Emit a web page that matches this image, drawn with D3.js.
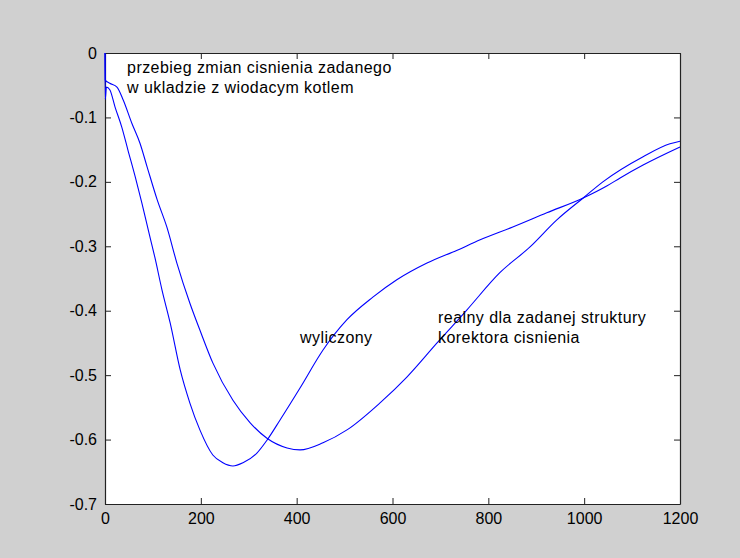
<!DOCTYPE html>
<html>
<head>
<meta charset="utf-8">
<script src="https://cdn.jsdelivr.net/npm/d3@7/dist/d3.min.js"></script>
<style>
  html, body { margin: 0; padding: 0; background: #d0d0d0; }
  svg { display: block; }
  text { font-family: "Liberation Sans", Arial, sans-serif; fill: #000; }
</style>
</head>
<body>
<svg id="chart" width="740" height="558"></svg>
<script>
// ---- data ----
const xTicks = [0, 200, 400, 600, 800, 1000, 1200];
const yTicks = [0, -0.1, -0.2, -0.3, -0.4, -0.5, -0.6, -0.7];
const yTickLabels = ["0", "-0.1", "-0.2", "-0.3", "-0.4", "-0.5", "-0.6", "-0.7"];

// "wyliczony" (computed) curve
const calcX = [0, 0.5, 3, 10, 21, 35, 48, 63, 77, 92, 104, 119, 136, 157, 177, 198, 225, 246, 267, 288, 317, 338, 365, 407, 455, 505, 559, 609, 672, 735, 783, 851, 922, 998, 1048, 1075, 1123, 1200];
const calcY = [0, -0.072, -0.053, -0.057, -0.084, -0.115, -0.151, -0.192, -0.233, -0.280, -0.317, -0.368, -0.419, -0.492, -0.543, -0.585, -0.624, -0.636, -0.641, -0.636, -0.621, -0.601, -0.570, -0.520, -0.461, -0.414, -0.379, -0.352, -0.326, -0.306, -0.290, -0.270, -0.248, -0.225, -0.206, -0.194, -0.174, -0.146];

// "realny" (real) curve
const realX = [0, 0.5, 10, 25, 38, 56, 73, 88, 109, 129, 150, 177, 198, 225, 267, 303, 338, 380, 407, 455, 505, 574, 630, 693, 755, 824, 887, 943, 998, 1039, 1123, 1179, 1200];
const realY = [0, -0.042, -0.047, -0.053, -0.073, -0.109, -0.140, -0.177, -0.228, -0.270, -0.326, -0.388, -0.430, -0.481, -0.539, -0.574, -0.598, -0.613, -0.616, -0.605, -0.585, -0.543, -0.503, -0.450, -0.399, -0.341, -0.301, -0.259, -0.225, -0.200, -0.161, -0.141, -0.137];

const labels = [
  { x: 46, y: -0.031, lines: ["przebieg zmian cisnienia zadanego", "w ukladzie z wiodacym kotlem"] },
  { x: 407, y: -0.450, lines: ["wyliczony"] },
  { x: 695, y: -0.419, lines: ["realny dla zadanej struktury", "korektora cisnienia"] }
];

// ---- layout ----
const svg = d3.select("#chart");
const L = 105, R = 680, T = 53, B = 504;
const x = d3.scaleLinear().domain([0, 1200]).range([L, R]);
const y = d3.scaleLinear().domain([-0.7, 0]).range([B, T]);

svg.append("rect").attr("x", 0).attr("y", 0).attr("width", 740).attr("height", 558).attr("fill", "#d0d0d0");
svg.append("rect").attr("x", L).attr("y", T).attr("width", R - L).attr("height", B - T).attr("fill", "#fff");

const tickFs = "16px";
const annFs = "16px";
const tickLen = 6;

const gx = svg.append("g").attr("transform", `translate(0,${B})`)
  .call(d3.axisBottom(x).tickValues(xTicks).tickSize(-tickLen).tickSizeOuter(0).tickPadding(9).tickFormat(d3.format("d")));
const gxt = svg.append("g").attr("transform", `translate(0,${T})`)
  .call(d3.axisTop(x).tickValues(xTicks).tickSize(-tickLen).tickSizeOuter(0).tickFormat(""));
const gy = svg.append("g").attr("transform", `translate(${L},0)`)
  .call(d3.axisLeft(y).tickValues(yTicks).tickSize(-tickLen).tickSizeOuter(0).tickPadding(8).tickFormat((d, i) => yTickLabels[i]));
const gyr = svg.append("g").attr("transform", `translate(${R},0)`)
  .call(d3.axisRight(y).tickValues(yTicks).tickSize(-tickLen).tickSizeOuter(0).tickFormat(""));

[gx, gxt, gy, gyr].forEach(g => {
  g.selectAll(".domain").attr("stroke", "#222").attr("stroke-width", 1.2);
  g.selectAll(".tick line").attr("stroke", "#222");
  g.selectAll("text").style("font-size", tickFs).style("font-family", "'Liberation Sans', Arial, sans-serif").attr("fill", "#111");
});

// curves
const line = d3.line().x(d => x(d[0])).y(d => y(d[1])).curve(d3.curveMonotoneX);
const curves = [d3.zip(calcX, calcY), d3.zip(realX, realY)];
svg.append("g").selectAll("path").data(curves).join("path")
  .attr("d", line)
  .attr("fill", "none")
  .attr("stroke", "#0000ff")
  .attr("stroke-width", 1.1)
  .attr("stroke-linejoin", "round");

// annotations
labels.forEach(lb => {
  const t = svg.append("text")
    .attr("x", x(lb.x))
    .attr("y", y(lb.y))
    .style("font-size", annFs)
    .style("letter-spacing", "0.45px")
    .attr("fill", "#111");
  lb.lines.forEach((s, i) => {
    t.append("tspan").attr("x", x(lb.x)).attr("dy", i === 0 ? 0 : 20).text(s);
  });
});
</script>
</body>
</html>
